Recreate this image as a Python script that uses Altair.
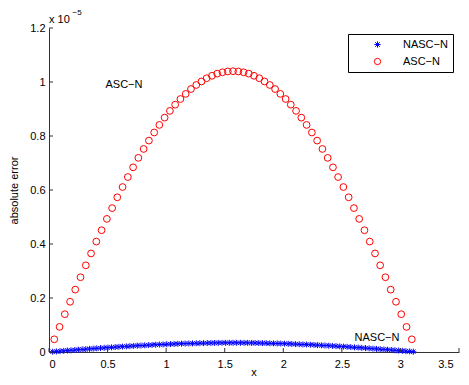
import altair as alt
import pandas as pd

# ---- data (error values in units of 1e-5) ----
ASC_X = [0.045, 0.090, 0.135, 0.180, 0.224, 0.269, 0.314, 0.359, 0.404, 0.449,
         0.494, 0.539, 0.583, 0.628, 0.673, 0.718, 0.763, 0.808, 0.853, 0.898,
         0.942, 0.987, 1.032, 1.077, 1.122, 1.167, 1.212, 1.257, 1.302, 1.346,
         1.391, 1.436, 1.481, 1.526, 1.571, 1.616, 1.661, 1.705, 1.750, 1.795,
         1.840, 1.885, 1.930, 1.975, 2.020, 2.064, 2.109, 2.154, 2.199, 2.244,
         2.289, 2.334, 2.379, 2.424, 2.468, 2.513, 2.558, 2.603, 2.648, 2.693,
         2.738, 2.783, 2.827, 2.872, 2.917, 2.962, 3.007, 3.052, 3.097]
ASC_ERR = [0.047, 0.093, 0.140, 0.186, 0.231, 0.277, 0.321, 0.365, 0.409, 0.451,
           0.493, 0.533, 0.573, 0.611, 0.648, 0.684, 0.719, 0.752, 0.783, 0.813,
           0.841, 0.868, 0.893, 0.916, 0.937, 0.956, 0.974, 0.989, 1.002, 1.014,
           1.023, 1.031, 1.036, 1.039, 1.040, 1.039, 1.036, 1.031, 1.023, 1.014,
           1.002, 0.989, 0.974, 0.956, 0.937, 0.916, 0.893, 0.868, 0.841, 0.813,
           0.783, 0.752, 0.719, 0.684, 0.648, 0.611, 0.573, 0.533, 0.493, 0.451,
           0.409, 0.365, 0.321, 0.277, 0.231, 0.186, 0.140, 0.093, 0.047]

NASC_X = [0.031, 0.063, 0.094, 0.126, 0.157, 0.188, 0.220, 0.251, 0.283, 0.314,
          0.346, 0.377, 0.408, 0.440, 0.471, 0.503, 0.534, 0.565, 0.597, 0.628,
          0.660, 0.691, 0.723, 0.754, 0.785, 0.817, 0.848, 0.880, 0.911, 0.942,
          0.974, 1.005, 1.037, 1.068, 1.100, 1.131, 1.162, 1.194, 1.225, 1.257,
          1.288, 1.319, 1.351, 1.382, 1.414, 1.445, 1.477, 1.508, 1.539, 1.571,
          1.602, 1.634, 1.665, 1.696, 1.728, 1.759, 1.791, 1.822, 1.854, 1.885,
          1.916, 1.948, 1.979, 2.011, 2.042, 2.073, 2.105, 2.136, 2.168, 2.199,
          2.231, 2.262, 2.293, 2.325, 2.356, 2.388, 2.419, 2.450, 2.482, 2.513,
          2.545, 2.576, 2.608, 2.639, 2.670, 2.702, 2.733, 2.765, 2.796, 2.827,
          2.859, 2.890, 2.922, 2.953, 2.985, 3.016, 3.047, 3.079, 3.110]
NASC_ERR = [0.0011, 0.0021, 0.0032, 0.0043, 0.0053, 0.0064, 0.0074, 0.0085, 0.0095, 0.0105,
            0.0115, 0.0125, 0.0135, 0.0145, 0.0154, 0.0164, 0.0173, 0.0182, 0.0191, 0.0200,
            0.0208, 0.0217, 0.0225, 0.0233, 0.0240, 0.0248, 0.0255, 0.0262, 0.0269, 0.0275,
            0.0281, 0.0287, 0.0293, 0.0298, 0.0303, 0.0308, 0.0312, 0.0316, 0.0320, 0.0323,
            0.0327, 0.0329, 0.0332, 0.0334, 0.0336, 0.0337, 0.0339, 0.0339, 0.0340, 0.0340,
            0.0340, 0.0339, 0.0339, 0.0337, 0.0336, 0.0334, 0.0332, 0.0329, 0.0327, 0.0323,
            0.0320, 0.0316, 0.0312, 0.0308, 0.0303, 0.0298, 0.0293, 0.0287, 0.0281, 0.0275,
            0.0269, 0.0262, 0.0255, 0.0248, 0.0240, 0.0233, 0.0225, 0.0217, 0.0208, 0.0200,
            0.0191, 0.0182, 0.0173, 0.0164, 0.0154, 0.0145, 0.0135, 0.0125, 0.0115, 0.0105,
            0.0095, 0.0085, 0.0074, 0.0064, 0.0053, 0.0043, 0.0032, 0.0021, 0.0011]

SERIES = ["NASC\u2212N", "ASC\u2212N"]
COLORS = ["#0000ff", "#ff0000"]
X_TICKS = [0, 0.5, 1, 1.5, 2, 2.5, 3, 3.5]
Y_TICKS = [0, 0.2, 0.4, 0.6, 0.8, 1, 1.2]

FONT = "Liberation Sans"
STAR = "M-1,0L1,0M0,-1L0,1M-0.72,-0.72L0.72,0.72M-0.72,0.72L0.72,-0.72"

W, H = 410, 324

df = pd.concat([
    pd.DataFrame({"x": NASC_X, "err": NASC_ERR, "method": SERIES[0]}),
    pd.DataFrame({"x": ASC_X, "err": ASC_ERR, "method": SERIES[1]}),
])

xscale = alt.Scale(domain=[0, 3.5], nice=False, zero=False)
yscale = alt.Scale(domain=[0, 1.2], nice=False)

points = alt.Chart(df).mark_point(filled=False, strokeWidth=1, opacity=1).encode(
    x=alt.X("x:Q", scale=xscale, title=None,
            axis=alt.Axis(values=X_TICKS, format="~g", ticks=False, tickSize=0,
                          labelPadding=6, grid=False,
                          labelOffset={"condition": {"test": "datum.value == 3.5", "value": -6},
                                       "value": 0})),
    y=alt.Y("err:Q", scale=yscale, title="absolute error",
            axis=alt.Axis(values=Y_TICKS, format="~g", ticks=False, tickSize=0,
                          labelPadding=4, titlePadding=10, grid=False)),
    color=alt.Color("method:N", scale=alt.Scale(domain=SERIES, range=COLORS),
                    legend=alt.Legend(title=None, orient="none", legendX=299, legendY=6)),
    shape=alt.Shape("method:N", scale=alt.Scale(domain=SERIES, range=[STAR, "circle"]),
                    legend=alt.Legend(title=None, orient="none", legendX=299, legendY=6)),
    size=alt.condition(alt.datum.method == SERIES[0], alt.value(36), alt.value(46)),
)

xt = pd.DataFrame({"t": X_TICKS})
yt = pd.DataFrame({"t": Y_TICKS})
xticks = alt.Chart(xt).mark_rule(color="#333", strokeWidth=1).encode(
    x=alt.X("t:Q", scale=xscale), y=alt.value(H), y2=alt.value(H - 4))
yticks = alt.Chart(yt).mark_rule(color="#333", strokeWidth=1).encode(
    y=alt.Y("t:Q", scale=yscale), x=alt.value(0), x2=alt.value(4))

one = pd.DataFrame({"a": [0]})
exp_base = alt.Chart(one).mark_text(text="x 10", font=FONT, fontSize=11, align="left",
                                     baseline="alphabetic", color="black").encode(
    x=alt.value(0), y=alt.value(-5))
exp_sup = alt.Chart(one).mark_text(text="\u22125", font=FONT, fontSize=8, align="left",
                                    baseline="alphabetic", color="black").encode(
    x=alt.value(23.5), y=alt.value(-13))
x_title = alt.Chart(one).mark_text(text="x", font=FONT, fontSize=11, align="center",
                                    baseline="alphabetic", color="black").encode(
    x=alt.value(W / 2), y=alt.value(H + 24))

ann = pd.DataFrame({"x": [0.64, 2.80], "y": [0.99, 0.052], "label": ["ASC\u2212N", "NASC\u2212N"]})
annot = alt.Chart(ann).mark_text(font=FONT, fontSize=11, align="center", baseline="middle",
                                 color="black").encode(
    x=alt.X("x:Q", scale=xscale), y=alt.Y("y:Q", scale=yscale), text="label:N")

chart = alt.layer(points, xticks, yticks, exp_base, exp_sup, x_title, annot).properties(
    width=W, height=H,
    padding={"left": 41, "top": 20, "right": 2, "bottom": 25},
    autosize=alt.AutoSizeParams(type="none"),
).configure_view(stroke=None).configure_axis(
    domainColor="#333", domainWidth=1, labelFont=FONT, titleFont=FONT,
    labelFontSize=11, titleFontSize=11, labelColor="black", titleColor="black",
    titleFontWeight="normal",
).configure_legend(
    labelFont=FONT, labelFontSize=11, labelColor="black",
    strokeColor="black", fillColor="white", padding=5, cornerRadius=0,
    symbolOffset=19, labelOffset=20, rowPadding=5, symbolStrokeWidth=1,
    symbolSize=40,
)

chart.save("out.html", embed_options={"renderer": "svg", "actions": False})
